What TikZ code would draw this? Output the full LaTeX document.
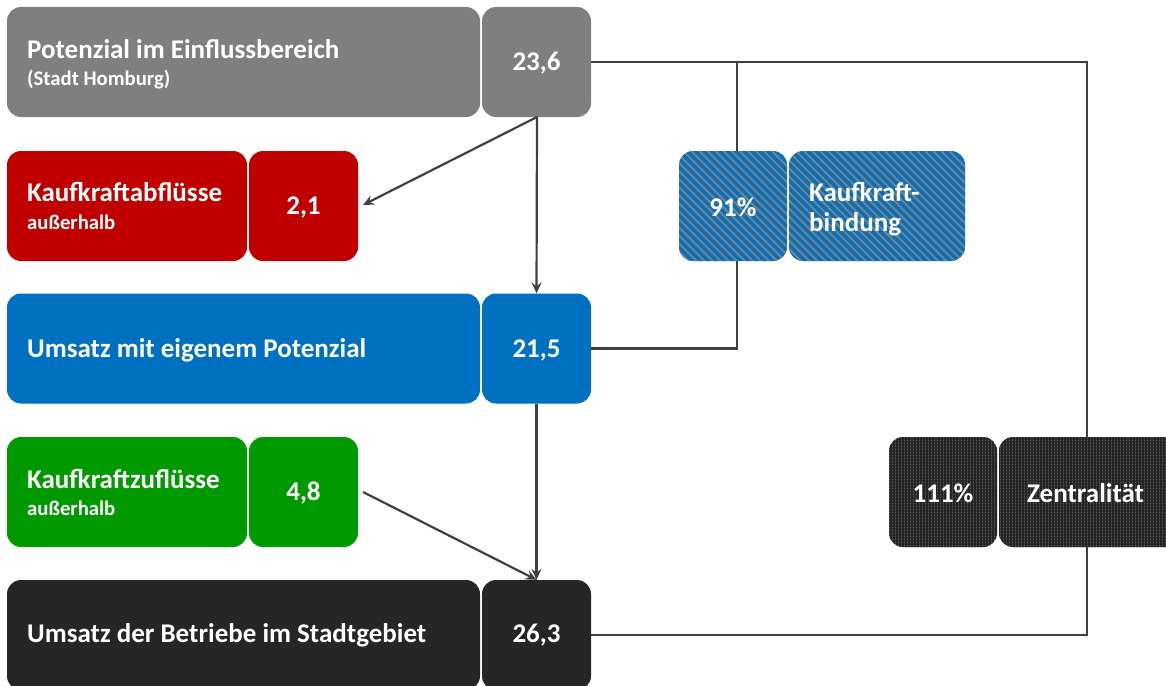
\documentclass[tikz,border=0pt]{standalone}
\usepackage{fontspec}
\setmainfont{Carlito}
\usetikzlibrary{arrows.meta,patterns.meta}
\definecolor{cgray}{HTML}{7F7F7F}
\definecolor{cred}{HTML}{C00000}
\definecolor{cblue}{HTML}{0070C0}
\definecolor{cgreen}{HTML}{009A00}
\definecolor{cblack}{HTML}{262626}
\definecolor{linec}{HTML}{404040}
\definecolor{stripe}{HTML}{808080}
\definecolor{darkbase}{HTML}{5A5A5A}
\definecolor{darkgrid}{HTML}{242424}
\tikzset{
  box/.style={rectangle, rounded corners=14pt, draw=none, minimum height=110pt, inner sep=0pt},
  hatchbox/.style={box, fill=cblue, postaction={pattern={Lines[angle=-45,distance=5.7pt,line width=2pt]}, pattern color=stripe}},
  dotbox/.style={box, fill=darkbase, postaction={pattern={Hatch[angle=0,distance=3pt,line width=1.3pt]}, pattern color=darkgrid}},
  big/.style={text=white, font=\bfseries\fontsize{27}{30}\selectfont, inner sep=0pt},
  small/.style={text=white, font=\bfseries\fontsize{20.7}{24}\selectfont, inner sep=0pt},
  conn/.style={draw=linec, line width=2.2pt},
  arr/.style={conn, -{Stealth[length=11pt,width=10pt,inset=4pt]}}
}
\begin{document}
\begin{tikzpicture}[x=1pt,y=-1pt]
\useasboundingbox (0,0) rectangle (1166,685);
\clip (0,0) rectangle (1166,685);
% connector coordinates
\coordinate (tr) at (1087,62);
\coordinate (br) at (1087,635);
\coordinate (kt) at (737,62);
\coordinate (kb) at (737,348.5);
% connectors behind boxes
\node[box, minimum width=109pt] (g2) at (536.5,62) {};
\node[box, minimum width=109pt] (b2) at (536.5,348.5) {};
\node[box, minimum width=109pt] (k2) at (536.5,635) {};
\draw[conn] (g2.east) -- (tr) -- (br) -- (k2.east);
\draw[conn] (kt) -- (kb) -- (b2.east);
% boxes
\node[box, fill=cgray, minimum width=473pt] (g1) at (243.5,62) {};
\node[box, fill=cgray, minimum width=109pt] at (g2) {};
\node[box, fill=cred, minimum width=240pt] (r1) at (127,206) {};
\node[box, fill=cred, minimum width=109pt] (r2) at (303.5,206) {};
\node[box, fill=cblue, minimum width=473pt] (b1) at (243.5,348.5) {};
\node[box, fill=cblue, minimum width=109pt] at (b2) {};
\node[box, fill=cgreen, minimum width=240pt] (z1) at (127,492) {};
\node[box, fill=cgreen, minimum width=109pt] (z2) at (303.5,492) {};
\node[box, fill=cblack, minimum width=473pt] (k1) at (243.5,635) {};
\node[box, fill=cblack, minimum width=109pt] at (k2) {};
\node[hatchbox, minimum width=108pt] (h1) at (733,206) {};
\node[hatchbox, minimum width=176pt] (h2) at (877,206) {};
\node[dotbox, minimum width=108pt] (d1) at (943,492) {};
\node[dotbox, minimum width=180pt] (d2) at (1089,492) {};
% texts
\node[big, anchor=base west] (t1) at (27,59) {Potenzial im Einflussbereich};
\node[small, anchor=base west] (t1s) at (27,85) {(Stadt Homburg)};
\node[big] (n1) at (536.5,63) {23,6};
\node[big, anchor=base west] (t2) at (27,201) {Kaufkraftabflüsse};
\node[small, anchor=base west] (t2s) at (27,229) {außerhalb};
\node[big] (n2) at (303.5,207) {2,1};
\node[big, anchor=west] (t3) at (27,350) {Umsatz mit eigenem Potenzial};
\node[big] (n3) at (536.5,350) {21,5};
\node[big, anchor=base west] (t4) at (27,488) {Kaufkraftzuflüsse};
\node[small, anchor=base west] (t4s) at (27,515) {außerhalb};
\node[big] (n4) at (303.5,493) {4,8};
\node[big, anchor=west] (t5) at (27,635) {Umsatz der Betriebe im Stadtgebiet};
\node[big] (n5) at (536.5,635) {26,3};
\node[big] (n6) at (733,207) {91\%};
\node[big, anchor=west, align=left] (t6) at (809,209) {Kaufkraft-\\bindung};
\node[big] (n7) at (943,493) {111\%};
\node[big, anchor=west] (t7) at (1027,493) {Zentralität};
% arrows
\coordinate (src) at (537,117);
\coordinate (rr) at (363,205);
\coordinate (zr) at (363,492);
\draw[arr] (src) -- (rr);
\draw[arr] (src) -- (b2.north);
\draw[arr] (b2.south) -- (k2.north);
\draw[arr] (zr) -- (k2.north);
\end{tikzpicture}
\end{document}
